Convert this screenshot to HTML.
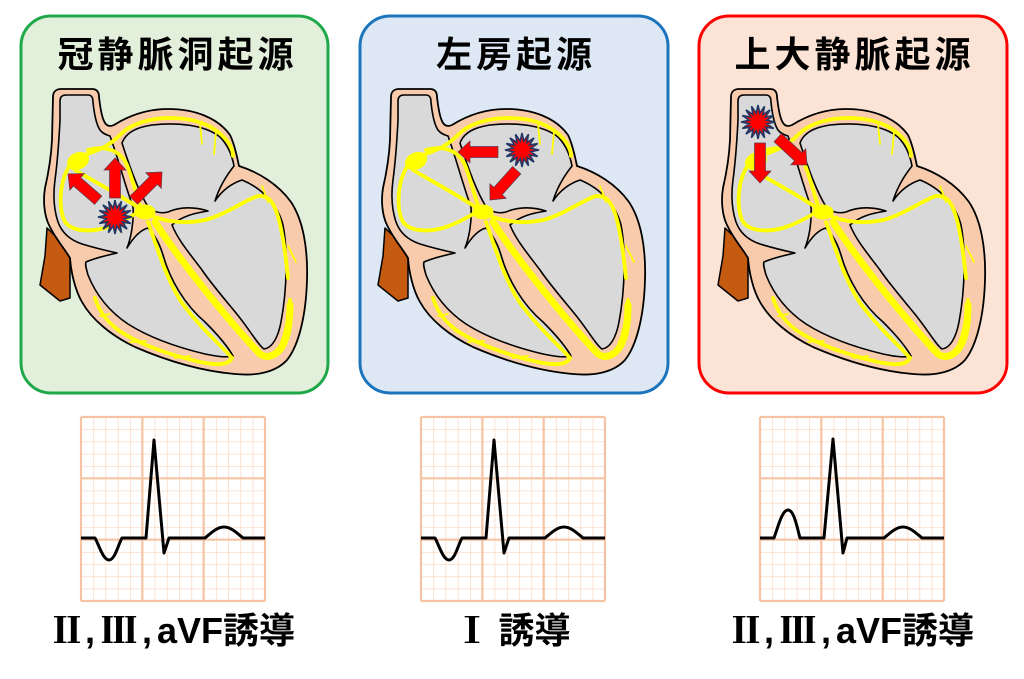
<!DOCTYPE html>
<html><head><meta charset="utf-8">
<style>
html,body{margin:0;padding:0;background:#fff;}
body{width:1024px;height:679px;overflow:hidden;}
svg{display:block;}
.t{font-family:"Liberation Sans","Noto Sans CJK JP",sans-serif;font-weight:bold;fill:#000;}
.c{font-family:"Noto Serif CJK SC","Noto Sans CJK JP",serif;font-weight:900;fill:#000;}
</style></head>
<body>
<svg width="1024" height="679" viewBox="0 0 1024 679" xmlns="http://www.w3.org/2000/svg">
<defs>
  <g id="heart">
    <polygon points="47,228 70,250 70,298 60,301 40,285 45,256" fill="#c55a11" stroke="#000" stroke-width="1.5" stroke-linejoin="round"/>
    <path d="M53,97 C53,92 56,89 61,89 L92,89 C97,89 99,92 99,97 C100,105 101,115 104,121 C106,126 110,127 114,125 C130,115 148,109 168,109 C195,109 218,118 230,135 C235,145 237,157 239,166 C258,172 278,184 291,202 C303,220 308,248 307,280 C306,315 299,345 287,360 C275,373 255,376 235,374 C200,371 165,360 135,347 C112,336 92,320 82,302 C75,290 71,272 70,258 C64,248 55,238 49,225 C44,215 43,200 45,188 C48,175 51,160 52,140 Z" fill="#f8cbad" stroke="#000" stroke-width="1.8" stroke-linejoin="round"/>
    <path d="M60,101 C60,97 62,95 66,95 L88,95 C92,95 93,98 93,102 C94,112 96,124 100,130 C103,134 107,135 110,136 C117,155 125,185 133,207 C134,222 131,238 127,248 C133,238 140,230 148,228 C155,235 160,245 163,255 C170,280 185,305 205,322 C218,335 228,347 233,356 C225,358 215,356 205,354 C180,348 150,338 128,324 C110,312 96,295 88,275 C86,268 85,264 86,262 C95,258 108,255 117,253 C108,251 95,248 82,244 C70,240 62,233 58,222 C54,210 53,195 55,180 C57,165 59,140 60,120 Z" fill="#d9d9d9" stroke="#000" stroke-width="1.6" stroke-linejoin="round"/>
    <path d="M122,143 C126,132 138,127 152,125 C178,122 205,125 220,137 C228,145 232,155 234,166 C226,176 219,188 215,201 C221,192 230,184 242,180 C262,188 278,205 283,225 C288,250 287,290 281,322 C278,338 272,348 264,349 C258,345 250,330 236,313 C222,296 210,282 202,270 C190,254 178,240 172,225 C182,216 195,213 208,211 C195,207 182,206 168,212 C160,214 152,212 147,205 C138,190 130,168 122,143 Z" fill="#d9d9d9" stroke="#000" stroke-width="1.6" stroke-linejoin="round"/>
    <g fill="none" stroke="#ffff00" stroke-linecap="round" stroke-linejoin="round" stroke-width="3.8">
      <path d="M85,155 C100,150 110,145 120,135 C130,124 150,118 170,118 C195,118 215,125 228,142 C232,148 233,152 233,156"/>
      <path d="M88,150 C105,145 120,150 127,165 C133,180 136,195 141,208"/>
      <path d="M70,165 C60,180 58,205 64,220 C70,232 90,232 105,228 C118,224 128,218 137,213"/>
      <path d="M75,170 C95,182 120,195 142,210"/>
      <path d="M150,215 C165,222 185,224 205,220 C225,215 245,200 258,196 C270,195 275,205 279,220 C284,240 286,260 288,278"/>
      <path d="M290,300 C289,318 286,333 281,345"/>
      <path d="M148,222 C158,250 165,275 180,300 C198,326 222,346 232,358 C228,366 215,365 200,362 C170,355 140,345 118,330 C105,320 98,308 95,298"/>
      <path stroke-width="7" d="M155,222 C168,242 185,265 205,290 C225,315 245,338 258,352 C265,360 276,357 283,345 C288,335 290,320 290,305"/>
      <path stroke-width="1.8" d="M200,124 L202,144 M216,132 L214,154 M262,186 L268,202 M288,246 L296,262 M100,316 L110,314 M130,342 L146,341 M175,358 L190,356"/>
    </g>
    <ellipse cx="78" cy="161" rx="11.5" ry="8.5" transform="rotate(-25 78 161)" fill="#ffff00"/>
    <ellipse cx="145" cy="212" rx="10.5" ry="7.5" fill="#ffff00"/>
  </g>
  <polygon id="star" points="17,0 8.83,1.76 15.71,6.51 7.48,5 12.02,12.02 5,7.48 6.51,15.71 1.76,8.83 0,17 -1.76,8.83 -6.51,15.71 -5,7.48 -12.02,12.02 -7.48,5 -15.71,6.51 -8.83,1.76 -17,0 -8.83,-1.76 -15.71,-6.51 -7.48,-5 -12.02,-12.02 -5,-7.48 -6.51,-15.71 -1.76,-8.83 0,-17 1.76,-8.83 6.51,-15.71 5,-7.48 12.02,-12.02 7.48,-5 15.71,-6.51 8.83,-1.76" fill="#ff0000" stroke="#203864" stroke-width="1.6" stroke-linejoin="miter"/>
  <path id="arr" d="M0,-5.5 L28,-5.5 L28,-11 L40,0 L28,11 L28,5.5 L0,5.5 Z" fill="#ff0000" stroke="#5a3a50" stroke-width="0.7"/>
  <pattern id="gp" width="12.2667" height="12.2667" patternUnits="userSpaceOnUse">
    <path d="M12.2667,0 L0,0 0,12.2667" fill="none" stroke="#f9d2ba" stroke-width="1.3"/>
  </pattern>
  <g id="grid">
    <rect x="0" y="0" width="184" height="184" fill="url(#gp)"/>
    <g stroke="#f6c3a3" stroke-width="2.2" fill="none">
      <path d="M0,0 V184 M61.33,0 V184 M122.67,0 V184 M184,0 V184 M0,0 H184 M0,61.33 H184 M0,122.67 H184 M0,184 H184"/>
    </g>
  </g>
</defs>

<!-- panels -->
<rect x="21" y="16" width="307" height="377" rx="30" fill="#e2efda" stroke="#1fa84a" stroke-width="3"/>
<rect x="360" y="16" width="308" height="377" rx="30" fill="#dde8f4" stroke="#1c75bc" stroke-width="3"/>
<rect x="699" y="16" width="308" height="377" rx="30" fill="#fbe4d6" stroke="#ff0000" stroke-width="3"/>

<text class="t" x="177.5" y="67" font-size="36" letter-spacing="4" text-anchor="middle">冠静脈洞起源</text>
<text class="t" x="516" y="67" font-size="36" letter-spacing="4" text-anchor="middle">左房起源</text>
<text class="t" x="854.5" y="67" font-size="36" letter-spacing="4" text-anchor="middle">上大静脈起源</text>

<use href="#heart"/>
<use href="#heart" transform="translate(338,0)"/>
<use href="#heart" transform="translate(678,0)"/>

<!-- panel 1 -->
<use href="#star" transform="translate(115,217)"/>
<use href="#arr" transform="translate(98.2,200.2) rotate(-139)"/>
<use href="#arr" transform="translate(115,198) rotate(-90)"/>
<use href="#arr" transform="translate(133.7,200.3) rotate(-45)"/>
<!-- panel 2 -->
<use href="#star" transform="translate(522,150)"/>
<use href="#arr" transform="translate(498,152) rotate(180)"/>
<use href="#arr" transform="translate(516.7,170.2) rotate(131.8)"/>
<!-- panel 3 -->
<use href="#star" transform="translate(758,122)"/>
<use href="#arr" transform="translate(760,143) rotate(90)"/>
<use href="#arr" transform="translate(777.8,137.7) rotate(43)"/>

<!-- ECGs -->
<g transform="translate(81,417)">
  <use href="#grid"/>
  <path d="M0,121 L14,121 C18,128 22,143 28,143 C34,143 37,128 41,121 L65,121 L73,23 L83,136 L88,121 L124,121 C130,116 136,110 143,110 C150,110 156,116 162,121 L184,121" fill="none" stroke="#000" stroke-width="3" stroke-linejoin="round"/>
</g>
<g transform="translate(421,417)">
  <use href="#grid"/>
  <path d="M0,121 L14,121 C18,128 22,143 28,143 C34,143 37,128 41,121 L65,121 L73,23 L83,136 L88,121 L124,121 C130,116 136,110 143,110 C150,110 156,116 162,121 L184,121" fill="none" stroke="#000" stroke-width="3" stroke-linejoin="round"/>
</g>
<g transform="translate(760,417)">
  <use href="#grid"/>
  <path d="M0,121 L14,121 C18,110 22,93 28,93 C34,93 37,110 40,121 L64,121 L73,22 L83,136 L87,121 L124,121 C130,116 136,110 143,110 C150,110 156,116 162,121 L184,121" fill="none" stroke="#000" stroke-width="3" stroke-linejoin="round"/>
</g>

<!-- labels -->
<g font-size="36">
  <text class="c" x="67" y="643" text-anchor="middle">Ⅱ</text>
  <text class="t" x="90" y="643" text-anchor="middle">,</text>
  <text class="c" x="119" y="643" text-anchor="middle">Ⅲ</text>
  <text class="t" x="147" y="643" text-anchor="middle">,</text>
  <text class="t" x="157" y="643">aVF</text>
  <text class="t" x="259" y="643" text-anchor="middle">誘導</text>

  <text class="c" x="472" y="643" text-anchor="middle">Ⅰ</text>
  <text class="t" x="534.5" y="643" text-anchor="middle">誘導</text>

  <text class="c" x="746" y="643" text-anchor="middle">Ⅱ</text>
  <text class="t" x="769" y="643" text-anchor="middle">,</text>
  <text class="c" x="798" y="643" text-anchor="middle">Ⅲ</text>
  <text class="t" x="826" y="643" text-anchor="middle">,</text>
  <text class="t" x="836" y="643">aVF</text>
  <text class="t" x="938" y="643" text-anchor="middle">誘導</text>
</g>
</svg>
</body></html>
